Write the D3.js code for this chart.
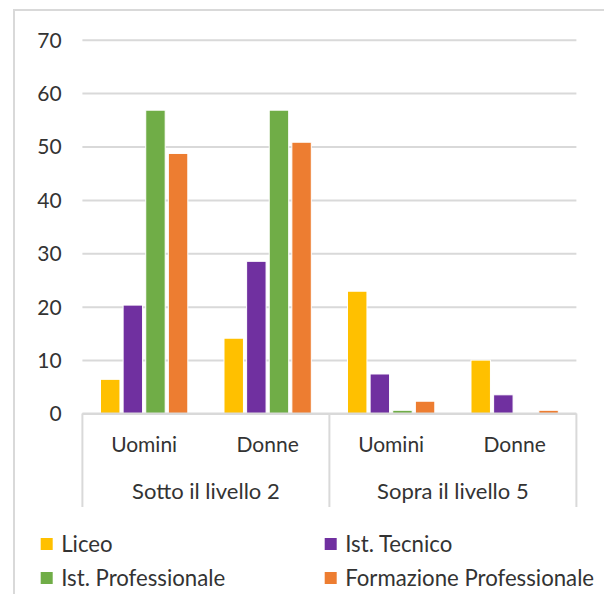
<!DOCTYPE html>
<html>
<head>
<meta charset="utf-8">
<script src="https://cdn.jsdelivr.net/npm/d3@7"></script>
<style>
  html, body { margin: 0; padding: 0; background: #fff; }
  svg { display: block; }
  text { font-family: Lato, "Noto Sans", sans-serif; fill: #333; }
</style>
</head>
<body>
<svg id="chart" width="604" height="594"></svg>
<script>
// ---- data ----
const groups = ["Sotto il livello 2", "Sopra il livello 5"];
const categories = ["Uomini", "Donne", "Uomini", "Donne"];
const categoryGroup = [0, 0, 1, 1];
const seriesNames = ["Liceo", "Ist. Tecnico", "Ist. Professionale", "Formazione Professionale"];
const seriesColors = ["#FFC000", "#7030A0", "#70AD47", "#ED7D31"];
const liceo = [6.4, 14.1, 22.9, 10.0];
const istTecnico = [20.3, 28.5, 7.4, 3.5];
const istProfessionale = [56.8, 56.8, 0.6, 0];
const formazioneProf = [48.7, 50.8, 2.3, 0.6];
const yTicks = [0, 10, 20, 30, 40, 50, 60, 70];

const seriesValues = [liceo, istTecnico, istProfessionale, formazioneProf];

const svg = d3.select("#chart");

// chart border
svg.append("rect")
  .attr("x", 14).attr("y", 10)
  .attr("width", 620).attr("height", 620)
  .attr("fill", "none").attr("stroke", "#d9d9d9").attr("stroke-width", 2);

const pLeft = 82.4, pRight = 576.4, pTop = 39.7, pBottom = 413.5;

const y = d3.scaleLinear().domain([0, 70]).range([pBottom, pTop]);
const x0 = d3.scaleBand().domain(d3.range(categories.length)).range([pLeft, pRight]).paddingInner(0).paddingOuter(0);
const x1 = d3.scaleBand().domain(d3.range(seriesNames.length))
  .range([0, x0.bandwidth()]).paddingOuter(0.8).paddingInner(0.14);

// gridlines
const yAxis = d3.axisLeft(y).tickValues(yTicks).tickSize(-(pRight - pLeft)).tickPadding(20).tickFormat(d3.format("d"));
const gy = svg.append("g").attr("transform", `translate(${pLeft},0)`).call(yAxis);
gy.select(".domain").remove();
gy.selectAll(".tick line").attr("stroke", "#d9d9d9").attr("stroke-width", 2);
gy.selectAll(".tick text").attr("font-size", 21).attr("x", -20.8).attr("dy", "0.35em")
  .attr("font-family", "Lato, 'Noto Sans', sans-serif").attr("fill", "#333");

// bars
const gBars = svg.append("g");
seriesValues.forEach((vals, si) => {
  gBars.selectAll(null).data(vals).enter().append("rect")
    .attr("x", (d, i) => x0(i) + x1(si))
    .attr("y", d => y(d))
    .attr("width", x1.bandwidth())
    .attr("height", d => y(0) - y(d))
    .attr("fill", seriesColors[si])
    .attr("stroke", d => d > 0 ? "#fff" : "none")
    .attr("stroke-width", 1);
});

// baseline axis
svg.append("line").attr("x1", pLeft).attr("x2", pRight).attr("y1", pBottom).attr("y2", pBottom)
  .attr("stroke", "#d9d9d9").attr("stroke-width", 2);

// group separators
const groupBounds = [pLeft, x0(2), pRight];
svg.selectAll(null).data(groupBounds).enter().append("line")
  .attr("x1", d => d).attr("x2", d => d)
  .attr("y1", pBottom).attr("y2", 507)
  .attr("stroke", "#d9d9d9").attr("stroke-width", 2);

// category labels
svg.selectAll(null).data(categories).enter().append("text")
  .attr("x", (d, i) => x0(i) + x0.bandwidth() / 2)
  .attr("y", 445).attr("dy", "0.35em")
  .attr("text-anchor", "middle").attr("font-size", 21)
  .text(d => d);

// group labels
svg.selectAll(null).data(groups).enter().append("text")
  .attr("x", (d, gi) => {
    const idx = categoryGroup.map((g, i) => g === gi ? i : -1).filter(i => i >= 0);
    return (x0(idx[0]) + x0(idx[idx.length - 1]) + x0.bandwidth()) / 2;
  })
  .attr("y", 491.7).attr("dy", "0.35em")
  .attr("text-anchor", "middle").attr("font-size", 22)
  .text(d => d);

// legend
const legendPos = [[40.7, 544], [324.7, 544], [40.7, 578], [324.7, 578]];
const lg = svg.append("g");
seriesNames.forEach((name, i) => {
  const [lx, ly] = legendPos[i];
  lg.append("rect").attr("x", lx).attr("y", ly - 6).attr("width", 12).attr("height", 12)
    .attr("fill", seriesColors[i]);
  lg.append("text").attr("x", lx + 20.5).attr("y", ly).attr("dy", "0.35em")
    .attr("font-size", 22.2).text(name);
});
</script>
</body>
</html>
